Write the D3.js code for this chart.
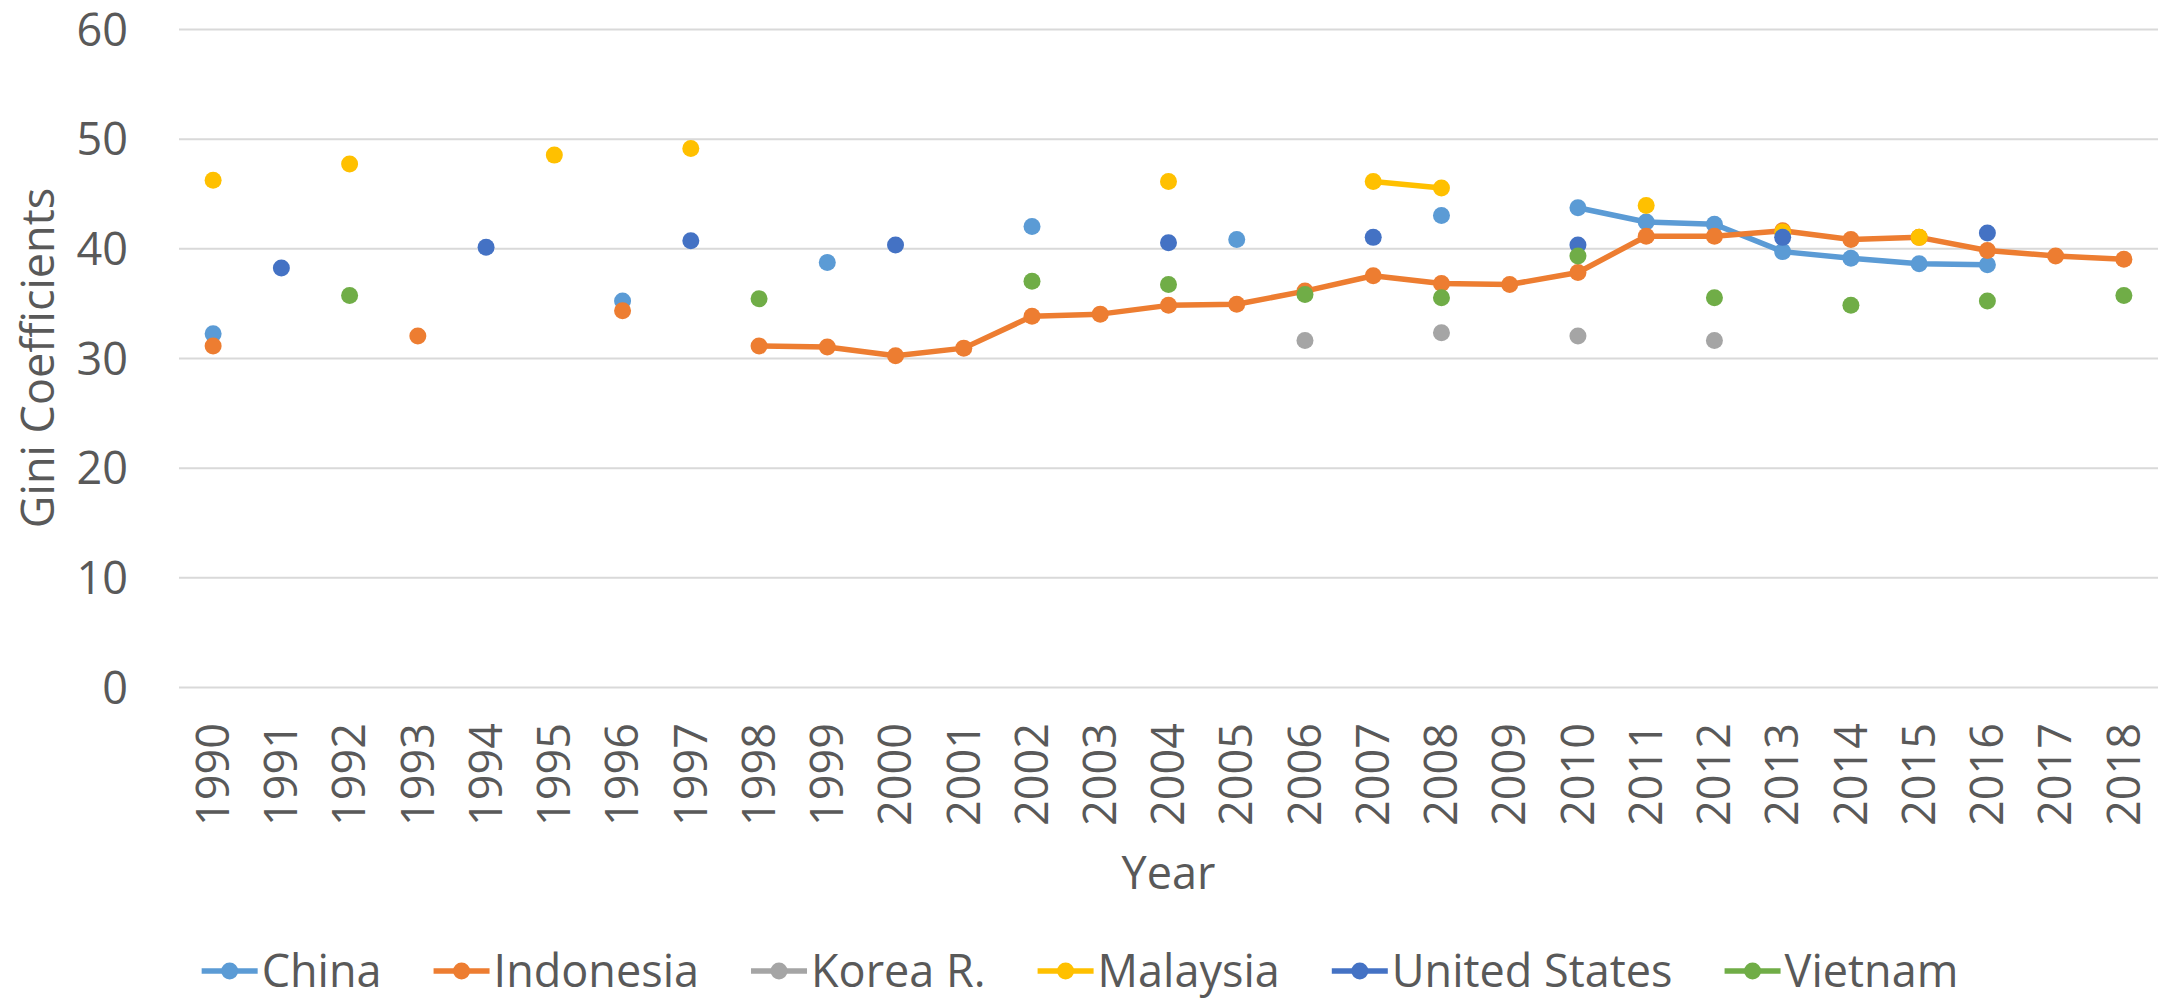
<!DOCTYPE html>
<html>
<head>
<meta charset="utf-8">
<script src="https://cdn.jsdelivr.net/npm/d3@7"></script>
<style>
  body { margin: 0; background: #fff; }
  text { font-family: "Open Sans", sans-serif; fill: #595959; }
</style>
</head>
<body>
<div id="container"></div>
<script>
let w = 2168;
let h = 1000;
let margin = {top: 29, right: 10, bottom: 313, left: 179};
let plotW = w - margin.left - margin.right;
let plotH = h - margin.top - margin.bottom;

// data (null = no value that year)
let years = d3.range(1990, 2019).map(String);
let yTicks = [0, 10, 20, 30, 40, 50, 60];
let countries = ["China", "Indonesia", "Korea R.", "Malaysia", "United States", "Vietnam"];
let colors = ["#5B9BD5", "#ED7D31", "#A5A5A5", "#FFC000", "#4472C4", "#70AD47"];

//            1990  1991  1992  1993  1994  1995  1996  1997  1998  1999  2000  2001  2002  2003  2004  2005  2006  2007  2008  2009  2010  2011  2012  2013  2014  2015  2016  2017  2018
let china     = [32.2, null, null, null, null, null, 35.2, null, null, 38.7, null, null, 42.0, null, null, 40.8, null, null, 43.0, null, 43.7, 42.4, 42.2, 39.7, 39.1, 38.6, 38.5, null, null];
let indonesia = [31.1, null, null, 32.0, null, null, 34.3, null, 31.1, 31.0, 30.2, 30.9, 33.8, 34.0, 34.8, 34.9, 36.1, 37.5, 36.8, 36.7, 37.8, 41.1, 41.1, 41.6, 40.8, 41.0, 39.8, 39.3, 39.0];
let korea     = [null, null, null, null, null, null, null, null, null, null, null, null, null, null, null, null, 31.6, null, 32.3, null, 32.0, null, 31.6, null, null, null, null, null, null];
let malaysia  = [46.2, null, 47.7, null, null, 48.5, null, 49.1, null, null, null, null, null, null, 46.1, null, null, 46.1, 45.5, null, null, 43.9, null, 41.5, null, 41.0, null, null, null];
let usa       = [null, 38.2, null, null, 40.1, null, null, 40.7, null, null, 40.3, null, null, null, 40.5, null, null, 41.0, null, null, 40.3, null, null, 41.0, null, null, 41.4, null, null];
let vietnam   = [null, null, 35.7, null, null, null, null, null, 35.4, null, null, null, 37.0, null, 36.7, null, 35.8, null, 35.5, null, 39.3, null, 35.5, null, 34.8, null, 35.2, null, 35.7];

let seriesValues = [china, indonesia, korea, malaysia, usa, vietnam];

let viz = d3.select("#container").append("svg")
    .attr("width", w)
    .attr("height", h)
    .style("display", "block")
    .style("background-color", "#fff");

let xScale = d3.scaleBand().domain(years).range([margin.left, margin.left + plotW]);
let yScale = d3.scaleLinear().domain([0, 60]).range([margin.top + plotH, margin.top]);

// y axis + gridlines
let yAxis = d3.axisLeft(yScale).tickValues(yTicks).tickSize(-plotW).tickPadding(51);
let yAxisGroup = viz.append("g").classed("yAxis", true)
    .attr("transform", "translate(" + margin.left + ",0)")
    .call(yAxis);
yAxisGroup.select(".domain").remove();
yAxisGroup.selectAll("line").attr("stroke", "#D9D9D9").attr("stroke-width", 2);
yAxisGroup.selectAll("text")
    .attr("dy", "0.36em")
    .style("font-family", "'Open Sans', sans-serif")
    .style("font-size", "45px")
    .attr("fill", "#595959");

// x axis, rotated labels
let xAxis = d3.axisBottom(xScale).tickSize(0);
let xAxisGroup = viz.append("g").classed("xAxis", true)
    .attr("transform", "translate(0," + (margin.top + plotH) + ")")
    .call(xAxis);
xAxisGroup.select(".domain").remove();
xAxisGroup.selectAll("text")
    .attr("transform", "rotate(-90)")
    .attr("x", -36)
    .attr("y", 0)
    .attr("dy", "0.35em")
    .style("text-anchor", "end")
    .style("font-family", "'Open Sans', sans-serif")
    .style("font-size", "45px")
    .attr("fill", "#595959");

// axis titles
viz.append("text")
    .attr("x", margin.left + plotW / 2)
    .attr("y", 889)
    .attr("text-anchor", "middle")
    .style("font-size", "45px")
    .text("Year");

viz.append("text")
    .attr("transform", "translate(38," + (margin.top + plotH / 2) + ") rotate(-90)")
    .attr("dy", "0.35em")
    .attr("text-anchor", "middle")
    .style("font-size", "45px")
    .text("Gini Coefficients");

// series: line where consecutive years exist, plus markers
let line = d3.line()
    .defined(d => d.v != null)
    .x(d => xScale(d.year) + xScale.bandwidth() / 2)
    .y(d => yScale(d.v));

countries.forEach(function(name, i){
  let pts = years.map((yr, j) => ({year: yr, v: seriesValues[i][j]}));
  let g = viz.append("g").classed("series", true);
  g.append("path")
      .datum(pts)
      .attr("d", line)
      .attr("fill", "none")
      .attr("stroke", colors[i])
      .attr("stroke-width", 5.5)
      .attr("stroke-linejoin", "round");
  g.selectAll("circle")
      .data(pts.filter(d => d.v != null))
      .enter()
      .append("circle")
      .attr("cx", d => xScale(d.year) + xScale.bandwidth() / 2)
      .attr("cy", d => yScale(d.v))
      .attr("r", 8.5)
      .attr("fill", colors[i]);
});

// legend
let legend = viz.append("g").classed("legend", true);
let legendY = 971;
let items = countries.map(function(name, i){
  let it = legend.append("g");
  it.append("line")
      .attr("x1", 0).attr("x2", 56)
      .attr("y1", 0).attr("y2", 0)
      .attr("stroke", colors[i])
      .attr("stroke-width", 5.5);
  it.append("circle").attr("cx", 28).attr("cy", 0).attr("r", 8.5).attr("fill", colors[i]);
  let t = it.append("text")
      .attr("x", 60)
      .attr("y", 16)
      .style("font-size", "45px")
      .text(name);
  return {g: it, width: 60 + t.node().getComputedTextLength()};
});
let gap = 52;
let total = d3.sum(items, d => d.width) + gap * (items.length - 1);
let cursor = 1080 - total / 2;
items.forEach(function(d){
  d.g.attr("transform", "translate(" + cursor + "," + legendY + ")");
  cursor += d.width + gap;
});
</script>
</body>
</html>
